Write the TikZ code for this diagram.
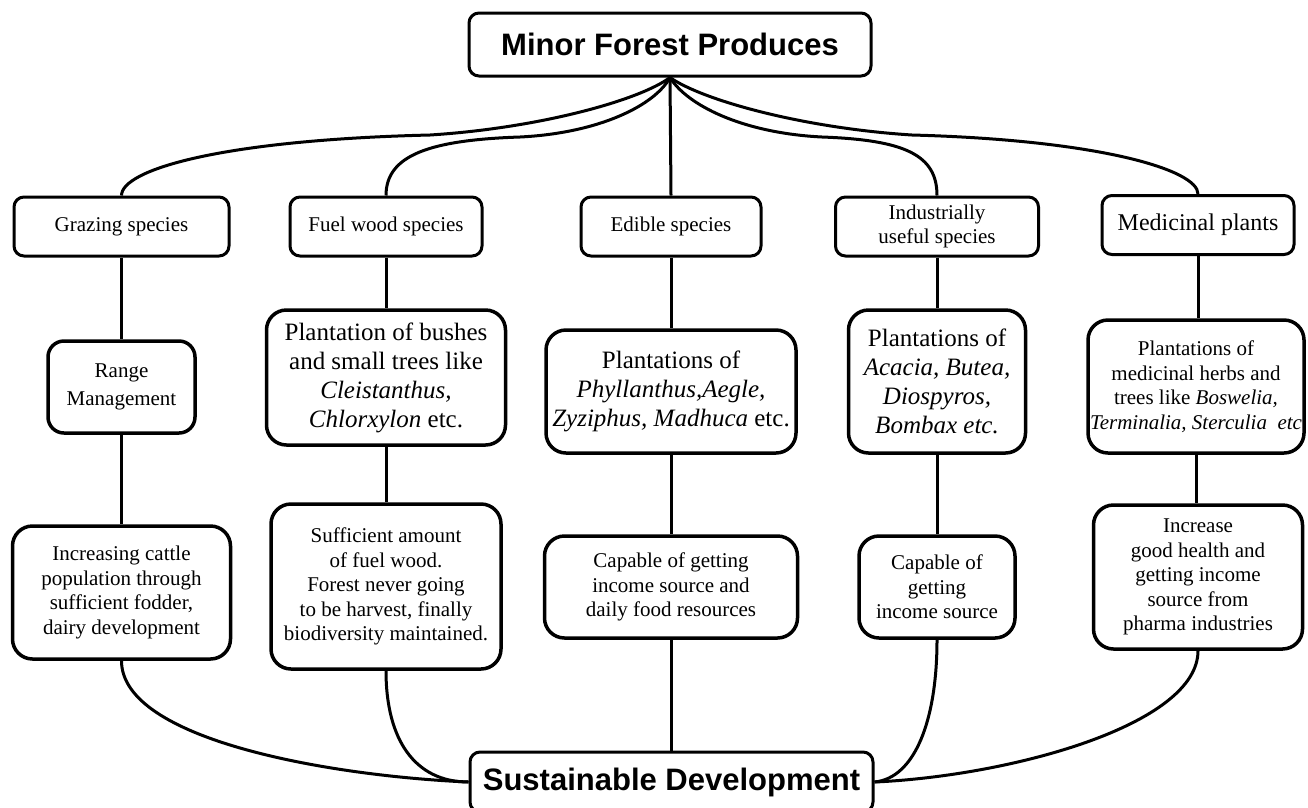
\documentclass[tikz,border=0pt]{standalone}
\usepackage{fontspec}
\setmainfont{Liberation Serif}
\newfontfamily\arialfont{Liberation Sans}
\newcommand\fsmall{\fontsize{21}{24.5}\selectfont}
\newcommand\fmid{\fontsize{24}{28}\selectfont}
\newcommand\fbig{\fontsize{25}{29}\selectfont}
\newcommand\ftitle{\arialfont\bfseries\fontsize{31}{36}\selectfont}
\tikzset{
  boxbase/.style={draw, fill=white, align=center, inner sep=0pt},
  titlebox/.style={boxbase, line width=3pt, rounded corners=10pt, font=\ftitle},
  lone/.style={boxbase, line width=3pt, rounded corners=10pt, font=\fsmall, minimum height=59pt},
  ltwo/.style={boxbase, line width=3.5pt, rounded corners=20pt, font=\fbig},
  lthree/.style={boxbase, line width=3.5pt, rounded corners=20pt, font=\fsmall},
  conn/.style={line width=3pt},
}
\begin{document}
\begin{tikzpicture}[x=1pt,y=-1pt]
\useasboundingbox (0,0) rectangle (1308,807);
% connectors first (drawn under boxes)
\path
  node[titlebox, minimum width=402pt, minimum height=63pt] (top) at (670,44.5) {Minor Forest Produces}
  node[lone, minimum width=215pt] (g1) at (121.5,226.5) {Grazing species}
  node[lone, minimum width=192pt] (f1) at (386,226.5) {Fuel wood species}
  node[lone, minimum width=180pt] (e1) at (671,226.5) {Edible species}
  node[lone, minimum width=203pt] (i1) at (937,226.5) {Industrially\\useful species}
  node[lone, minimum width=192pt, font=\fmid] (m1) at (1198,225) {Medicinal plants}
  node[ltwo, minimum width=147pt, minimum height=92pt, rounded corners=16pt, font=\fontsize{21}{28}\selectfont] (g2) at (121.5,387) {Range\\Management}
  node[ltwo, minimum width=239pt, minimum height=135pt] (f2) at (386,377.5) {Plantation of bushes\\and small trees like\\\textit{Cleistanthus,}\\\textit{Chlorxylon} etc.}
  node[ltwo, minimum width=250pt, minimum height=123pt] (e2) at (671,391.5) {Plantations of\\\textit{Phyllanthus,Aegle,}\\\textit{Zyziphus, Madhuca} etc.}
  node[ltwo, minimum width=177pt, minimum height=143pt] (i2) at (937,381.5) {Plantations of\\\textit{Acacia, Butea,}\\\textit{Diospyros,}\\\textit{Bombax etc.}}
  node[ltwo, minimum width=216pt, minimum height=133pt, font=\fsmall] (m2) at (1196,386.5) {Plantations of\\medicinal herbs and\\trees like \textit{Boswelia,}\\\textit{Terminalia, Sterculia\ \ etc}}
  node[lthree, minimum width=218pt, minimum height=133pt] (g3) at (121.5,592.5) {Increasing cattle\\population through\\sufficient fodder,\\dairy development}
  node[lthree, minimum width=230pt, minimum height=165pt] (f3) at (386,586.5) {Sufficient amount\\of fuel wood.\\Forest never going\\to be harvest, finally\\biodiversity maintained.}
  node[lthree, minimum width=253pt, minimum height=102pt] (e3) at (671,587) {Capable of getting\\income source and\\daily food resources}
  node[lthree, minimum width=156pt, minimum height=102pt] (i3) at (937,587) {Capable of\\getting\\income source}
  node[lthree, minimum width=209pt, minimum height=144pt] (m3) at (1198,577) {Increase\\good health and\\getting income\\source from\\pharma industries}
  node[titlebox, minimum width=403pt, minimum height=60pt] (bot) at (671.5,782) {Sustainable Development};
% top fan
\draw[conn] (top.south) .. controls (640,100) and (540,128) .. (430,135)
   .. controls (220,140) and (121.5,170) .. (g1.north);
\draw[conn] (top.south) .. controls (655,105) and (600,133) .. (520,137)
   .. controls (430,140) and (386,155) .. (f1.north);
\draw[conn] (top.south) -- (e1.north);
\draw[conn] (top.south) .. controls (687,105) and (742,133) .. (822,137)
   .. controls (905,140) and (937,155) .. (i1.north);
\draw[conn] (top.south) .. controls (702,100) and (802,128) .. (912,135)
   .. controls (1100,140) and (1198,170) .. (m1.north);
% columns
\foreach \a/\b in {g1/g2,g2/g3,f1/f2,f2/f3,e1/e2,e2/e3,i1/i2,i2/i3,m1/m2,m2/m3}
  \draw[conn] (\a.south) -- (\a.south |- \b.north);
\draw[conn] (e3.south) -- (e3.south |- bot.north);
% bottom curves
\draw[conn] (g3.south) .. controls (121.5,740) and (330,776) .. (bot.west);
\draw[conn] (f3.south) .. controls (386,740) and (415,782) .. (bot.west);
\draw[conn] (i3.south) .. controls (937,720) and (915,778) .. (bot.east);
\draw[conn] (m3.south) .. controls (1198,725) and (1010,776) .. (bot.east);
\end{tikzpicture}
\end{document}
